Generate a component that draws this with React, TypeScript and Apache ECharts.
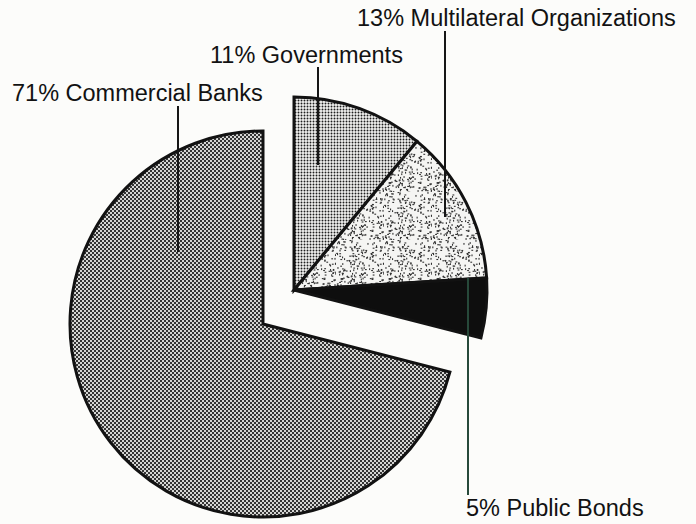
import React, { useEffect, useRef } from "react";
import * as echarts from "echarts";

// ---- data (clockwise from 12 o'clock) ----
const sourceNames = ["Governments", "Multilateral Organizations", "Public Bonds", "Commercial Banks"];
const sharePercent = [11, 13, 5, 71];

// ---- annotation layout (label text anchor + vertical leader line) ----
const labelLayout = [
  { x: 210, y: 55, lineX: 318, lineTop: 67, lineBottom: 165, lineColor: "#161616" },
  { x: 357, y: 18, lineX: 445, lineTop: 31, lineBottom: 217, lineColor: "#161616" },
  { x: 466, y: 508, lineX: 468, lineTop: 278, lineBottom: 495, lineColor: "#27493a" },
  { x: 12, y: 93, lineX: 178, lineTop: 106, lineBottom: 252, lineColor: "#161616" },
];

function makePattern(size: number, draw: (ctx: CanvasRenderingContext2D) => void) {
  const c = document.createElement("canvas");
  c.width = size;
  c.height = size;
  const ctx = c.getContext("2d")!;
  draw(ctx);
  return { image: c.toDataURL(), repeat: "repeat", imageWidth: size, imageHeight: size } as any;
}

function buildFills() {
  const banks = makePattern(4, (ctx) => {
    ctx.fillStyle = "#d6d6d4";
    ctx.fillRect(0, 0, 4, 4);
    ctx.fillStyle = "#343434";
    ctx.fillRect(0, 0, 2, 2);
    ctx.fillRect(2, 2, 2, 2);
  });
  const gov = makePattern(6, (ctx) => {
    ctx.fillStyle = "#f3f3f1";
    ctx.fillRect(0, 0, 6, 6);
    ctx.fillStyle = "#1e1e1e";
    [[1.5, 1.5], [4.5, 1.5], [1.5, 4.5], [4.5, 4.5]].forEach(([x, y]) => {
      ctx.beginPath();
      ctx.arc(x, y, 0.95, 0, Math.PI * 2);
      ctx.fill();
    });
  });
  const multi = makePattern(48, (ctx) => {
    ctx.fillStyle = "#f5f5f3";
    ctx.fillRect(0, 0, 48, 48);
    ctx.fillStyle = "#333";
    let s = 987654321;
    const rnd = () => {
      s = (Math.imul(s, 1664525) + 1013904223) >>> 0;
      return s / 4294967296;
    };
    for (let i = 0; i < 230; i++) {
      const x = rnd() * 48;
      const y = rnd() * 48;
      const horiz = rnd() > 0.5;
      ctx.fillRect(x, y, horiz ? 1.8 : 1.1, horiz ? 1.1 : 1.8);
    }
  });
  const bonds = "#0e0e0e";
  return [gov, multi, bonds, banks];
}

export default function App() {
  const ref = useRef<HTMLDivElement>(null);

  useEffect(() => {
    if (!ref.current) return;
    document.body.style.margin = "0";
    const chart = echarts.init(ref.current, null, { renderer: "svg" });
    const fills = buildFills();
    const BANKS = 3;
    const hidden = { color: "transparent", borderWidth: 0 };
    const border = { borderColor: "#121212", borderWidth: 3, borderJoin: "miter" };

    const groupData = sourceNames.map((n, i) => ({
      name: n,
      value: sharePercent[i],
      itemStyle: i === BANKS ? hidden : { color: fills[i], ...border },
    }));
    const banksData = sourceNames.map((n, i) => ({
      name: n,
      value: sharePercent[i],
      itemStyle: i === BANKS ? { color: fills[i], ...border } : hidden,
    }));

    const common = {
      type: "pie",
      radius: 193,
      startAngle: 90,
      clockwise: true,
      silent: true,
      label: { show: false },
      labelLine: { show: false },
      emphasis: { disabled: true },
      avoidLabelOverlap: false,
    };

    const graphics: any[] = [];
    sourceNames.forEach((n, i) => {
      const L = labelLayout[i];
      graphics.push({
        type: "line",
        z: 50,
        shape: { x1: L.lineX, y1: L.lineTop, x2: L.lineX, y2: L.lineBottom },
        style: { stroke: L.lineColor, lineWidth: 2 },
      });
      graphics.push({
        type: "text",
        z: 50,
        x: L.x,
        y: L.y,
        style: {
          text: `${sharePercent[i]}% ${n}`,
          font: '23.5px "Liberation Sans", Arial, sans-serif',
          fill: "#121212",
          textAlign: "left",
          textVerticalAlign: "middle",
        },
      });
    });

    chart.setOption({
      animation: false,
      backgroundColor: "#fcfcfa",
      series: [
        { ...common, center: [263, 324], data: banksData },
        { ...common, center: [294, 290], data: groupData },
      ],
      graphic: graphics,
    });
    return () => chart.dispose();
  }, []);

  return (
    <div
      ref={ref}
      style={{ position: "fixed", left: 0, top: 0, width: 696, height: 524 }}
    />
  );
}
